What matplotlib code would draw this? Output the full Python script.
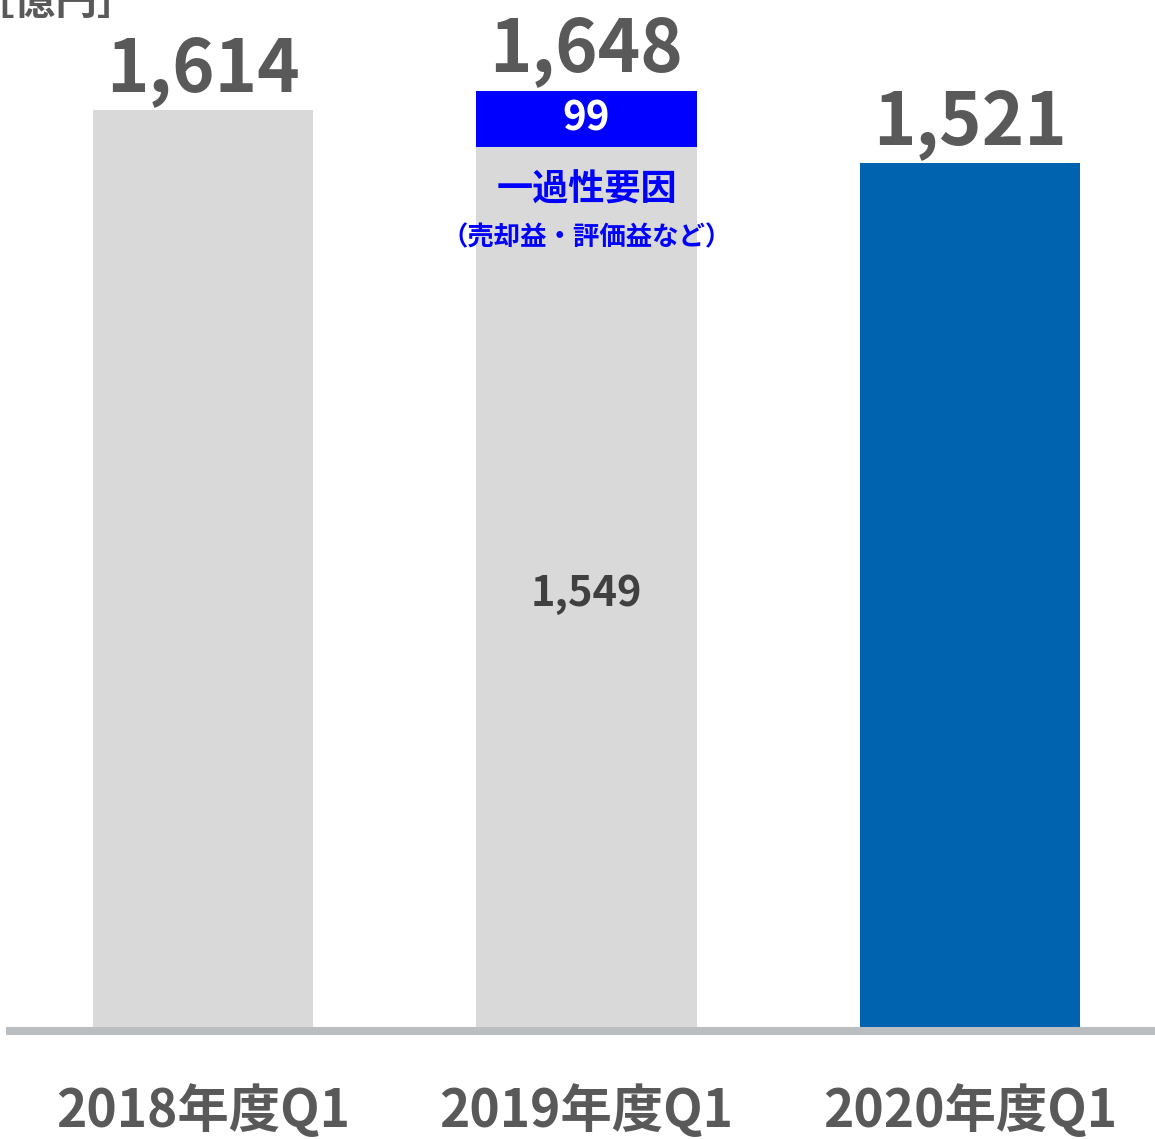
import matplotlib.pyplot as plt

plt.rcParams['font.family'] = ['Noto Sans CJK JP', 'DejaVu Sans']

categories = ['2018年度Q1', '2019年度Q1', '2020年度Q1']
base_values = [1614, 1549, 1521]
one_off = [0, 99, 0]
totals = [1614, 1648, 1521]
bar_colors = ['#D9D9D9', '#D9D9D9', '#0063B0']

W, H = 1155, 1139
fig = plt.figure(figsize=(W / 100, H / 100), dpi=100)
ax = fig.add_axes([10 / W, (H - 1031) / H, (W - 10) / W, 1031 / H])

x = list(range(len(categories)))
ax.bar(x, base_values, width=0.574, color=bar_colors)
ax.bar(x, one_off, bottom=base_values, width=0.574, color='#0000FF')

ax.set_xlim(-0.503, 2.482)
ax.set_ylim(0, 1807)

for i, t in enumerate(totals):
    ax.annotate(f'{t:,}', (i, t), xytext=(0, 14), textcoords='offset points',
                ha='center', va='baseline', fontsize=52, fontweight='bold',
                color='#595959')

# 一過性要因の内訳
ax.text(1, base_values[1] + one_off[1] / 2, f'{one_off[1]}', ha='center',
        va='center', fontsize=29, fontweight='bold', color='white')
ax.text(1, base_values[1] / 2 - 8, f'{base_values[1]:,}', ha='center',
        va='center', fontsize=30, fontweight='bold', color='#404040')
ax.annotate('一過性要因', (1, base_values[1]), xytext=(0, -31),
            textcoords='offset points', ha='center', va='center',
            fontsize=26, fontweight='bold', color='#0000FF')
ax.annotate('（売却益・評価益など）', (1, base_values[1]), xytext=(0, -65),
            textcoords='offset points', ha='center', va='center',
            fontsize=19, fontweight='bold', color='#0000FF')

ax.set_xticks(x)
ax.set_xticklabels(categories, fontsize=37, fontweight='bold', color='#595959')
ax.tick_params(axis='x', length=0, pad=38)
ax.set_yticks([])
for s in ['top', 'left', 'right']:
    ax.spines[s].set_visible(False)
ax.spines['bottom'].set_color('#BBBEC0')
ax.spines['bottom'].set_linewidth(5.8)

fig.text(-28 / W, 1 - 14 / H, '［億円］', ha='left', va='baseline', fontsize=30,
         fontweight='bold', color='#595959')

fig.savefig('out.png', dpi=100)
